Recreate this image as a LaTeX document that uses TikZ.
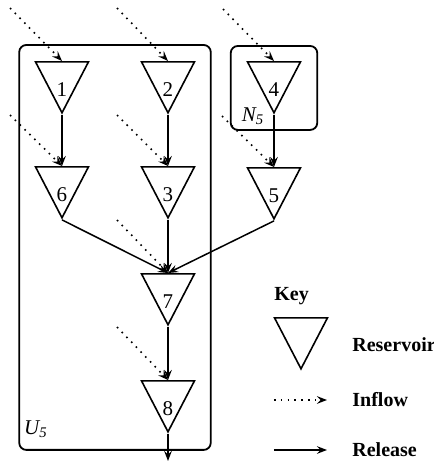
\documentclass[tikz,border=0pt]{standalone}
\usepackage{fontspec}
\setmainfont{Liberation Serif}
\usetikzlibrary{arrows.meta, positioning, fit, shapes.geometric}

% number sits low in the reservoir triangle
\newcommand{\resnum}[1]{\raisebox{-11pt}[0pt][0pt]{#1}}

\begin{document}
\begin{tikzpicture}[
  x=0.5pt, y=-0.5pt,
  font=\fontsize{10.5}{12}\selectfont,
  res/.style={draw, line width=0.8pt, isosceles triangle, isosceles triangle stretches,
              shape border rotate=270, minimum width=26.5pt, minimum height=25.5pt,
              inner sep=0pt},
  zone/.style={draw, line width=0.9pt, rounded corners=3.5pt, inner xsep=11pt, inner ysep=8pt},
  keytxt/.style={font=\bfseries\fontsize{10}{12}\selectfont, anchor=west, inner sep=0pt},
  tag/.style={font=\itshape\fontsize{10.5}{12}\selectfont},
  release/.style={-{Stealth[length=5pt, width=3.8pt, inset=1.8pt]}, line width=0.75pt},
  inflow/.style={-{Stealth[length=5pt, width=3.8pt, inset=1.8pt]}, line width=0.8pt,
                 dash pattern=on 0.8pt off 2.6pt}
]
\useasboundingbox (0,0) rectangle (434,463);

% reservoirs
\node[res, anchor=lower side] (r1) at (62,61)   {\resnum{1}};
\node[res, anchor=lower side] (r2) at (168,61)  {\resnum{2}};
\node[res, anchor=lower side] (r4) at (274,61)  {\resnum{4}};
\node[res, anchor=lower side] (r6) at (62,166)  {\resnum{6}};
\node[res, anchor=lower side] (r3) at (168,166) {\resnum{3}};
\node[res, anchor=lower side] (r5) at (274,167) {\resnum{5}};
\node[res, anchor=lower side] (r7) at (168,273) {\resnum{7}};
\node[res, anchor=lower side] (r8) at (168,380) {\resnum{8}};

% sets
\node[zone, fit=(r1)(r2)(r6)(r3)(r7)(r8)] (u5) {};
\node[zone, inner xsep=11.25pt, inner ysep=7.5pt, fit=(r4)] (n5) {};
\node[tag] (u5lab) at (36,429) {U\textsubscript{5}};
\node[tag] (n5lab) at (253,116) {N\textsubscript{5}};

% inflows
\coordinate (in1) at (10,8);
\coordinate (in2) at (117,8);
\coordinate (in4) at (223,9);
\coordinate (in6) at (10,115);
\coordinate (in3) at (117,115);
\coordinate (in5) at (222,116);
\coordinate (in7) at (117,220);
\coordinate (in8) at (117,327);
\draw[inflow] (in1) -- (r1.lower side);
\draw[inflow] (in2) -- (r2.lower side);
\draw[inflow] (in4) -- (r4.lower side);
\draw[inflow] (in6) -- (r6.lower side);
\draw[inflow] (in3) -- (r3.lower side);
\draw[inflow] (in5) -- (r5.lower side);
\draw[inflow] (in7) -- (r7.lower side);
\draw[inflow] (in8) -- (r8.lower side);

% releases
\coordinate (out) at (168,461);
\draw[release] (r1.apex) -- (r6.lower side);
\draw[release] (r2.apex) -- (r3.lower side);
\draw[release] (r4.apex) -- (r5.lower side);
\draw[release] (r6.apex) -- (r7.lower side);
\draw[release] (r3.apex) -- (r7.lower side);
\draw[release] (r5.apex) -- (r7.lower side);
\draw[release] (r7.apex) -- (r8.lower side);
\draw[release] (r8.apex) -- (out);

% key
\node[keytxt] (key) at (274,296) {Key};
\node[res, anchor=lower side] (kres) at (301,317) {};
\node[keytxt] (kreslab) at (352,345) {Reservoir};
\coordinate (kin0) at (274,400);
\coordinate (kin1) at (327,400);
\coordinate (krel0) at (274,450);
\coordinate (krel1) at (327,450);
\draw[inflow] (kin0) -- (kin1);
\draw[release] (krel0) -- (krel1);
\node[keytxt] (kinlab) at (352,400) {Inflow};
\node[keytxt] (krellab) at (352,450) {Release};
\end{tikzpicture}
\end{document}
